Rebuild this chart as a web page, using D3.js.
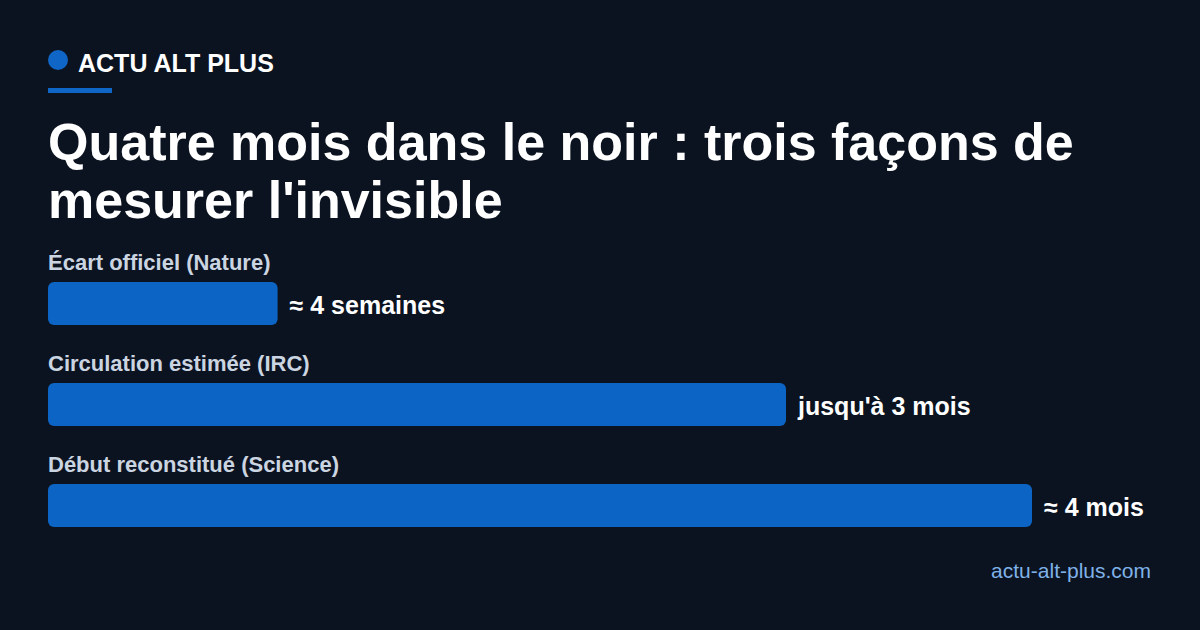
<!DOCTYPE html>
<html><head><meta charset="utf-8">
<script src="https://cdn.jsdelivr.net/npm/d3@7"></script>
<style>body{margin:0;background:#0b1320}</style></head>
<body><svg id="c" width="1200" height="630"></svg>
<script>
const categories = ["Écart officiel (Nature)", "Circulation estimée (IRC)", "Début reconstitué (Science)"];
const valuesDays = [28, 90, 120];
const valueLabels = ["≈ 4 semaines", "jusqu'à 3 mois", "≈ 4 mois"];

const svg = d3.select("#c");
const F = "Liberation Sans, Arial, sans-serif";
svg.append("rect").attr("width",1200).attr("height",630).attr("fill","#0b1320");
svg.append("circle").attr("cx",58).attr("cy",60).attr("r",10).attr("fill","#0f66c6");
svg.append("text").attr("x",78).attr("y",72).attr("fill","#fff").attr("font-family",F)
  .attr("font-weight","bold").attr("font-size",25).text("ACTU ALT PLUS");
svg.append("rect").attr("x",48).attr("y",88).attr("width",64).attr("height",5).attr("fill","#0f66c6");
["Quatre mois dans le noir : trois façons de","mesurer l'invisible"].forEach((t,i)=>
  svg.append("text").attr("x",48).attr("y",160+i*58).attr("fill","#fff").attr("font-family",F)
   .attr("font-weight","bold").attr("font-size",52).text(t));

const x = d3.scaleLinear().domain([0,120]).range([0,984]);
const y = d3.scaleBand().domain(categories).range([246,549]).paddingInner(0);
categories.forEach((c,i)=>{
  const y0 = y(c);
  svg.append("text").attr("x",48).attr("y",y0+24).attr("fill","#cbd5e1").attr("font-family",F)
    .attr("font-weight","bold").attr("font-size",22).text(c);
  svg.append("rect").attr("x",48).attr("y",y0+36).attr("width",x(valuesDays[i])).attr("height",43)
    .attr("rx",6).attr("fill","#0c64c4");
  svg.append("text").attr("x",48+x(valuesDays[i])+12).attr("y",y0+68).attr("fill","#fff")
    .attr("font-family",F).attr("font-weight","bold").attr("font-size",25).text(valueLabels[i]);
});
svg.append("text").attr("x",1151).attr("y",578).attr("text-anchor","end").attr("fill","#7fb2e8")
  .attr("font-family",F).attr("font-size",21).text("actu-alt-plus.com");
</script></body></html>
